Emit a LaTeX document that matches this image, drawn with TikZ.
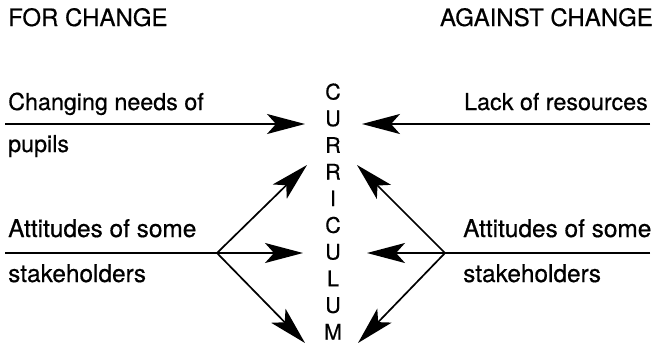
\documentclass[tikz,border=0pt]{standalone}
\usepackage{fontspec}
\setmainfont[FakeBold=0.5]{TeX Gyre Heros}
\usetikzlibrary{arrows.meta}
\begin{document}
\begin{tikzpicture}[x=1pt,y=-1pt,
  heading/.style={inner sep=0pt,font=\fontsize{24}{28}\selectfont},
  label/.style={inner sep=0pt,font=\fontsize{23.3}{28}\selectfont},
  widelabel/.style={label,font=\fontsize{24.4}{28}\selectfont},
  letter/.style={inner sep=0pt,anchor=base,font=\fontsize{21.5}{24}\selectfont},
  force/.style={line width=1.7pt,-{Stealth[length=38pt,width=20pt,inset=9pt]}},
  plain/.style={line width=1.7pt}]
\useasboundingbox (0,0) rectangle (656,349);

% column headings
\node[heading,anchor=base west] (for) at (8,26) {FOR CHANGE};
\node[heading,anchor=base east] (against) at (653,26) {AGAINST CHANGE};

% the word CURRICULUM, one letter per line
\foreach \l [count=\i from 0] in {C,U,R,R,I,C,U,L,U,M}
  \node[letter] (c\i) at (333,{99.5+26.67*\i}) {\l};

% driving forces (left)
\node[label,anchor=base west] (needs1) at (8,110) {Changing needs of};
\node[label,anchor=base west] (needs2) at (8,152) {pupils};
\node[widelabel,anchor=base west] (att1) at (8,237) {Attitudes of some};
\node[widelabel,anchor=base west] (att2) at (8,282) {stakeholders};

% restraining forces (right)
\node[label,anchor=base east] (lack) at (648,110) {Lack of resources};
\node[widelabel,anchor=base west] (ratt1) at (463,237) {Attitudes of some};
\node[widelabel,anchor=base west] (ratt2) at (463,282) {stakeholders};

% line ends and arrow tips
\coordinate (ls1) at (5,124);
\coordinate (lt1) at (305,124);
\coordinate (rs1) at (650,124);
\coordinate (rt1) at (362,124);
\coordinate (ls2) at (5,253);
\coordinate (hubL) at (217,253);
\coordinate (rs2) at (650,253);
\coordinate (hubR) at (445,253);
\coordinate (ltU) at (307,165);
\coordinate (ltM) at (303,253);
\coordinate (ltD) at (305,343);
\coordinate (rtU) at (357,165);
\coordinate (rtM) at (367,253);
\coordinate (rtD) at (358,343);

% top pair of forces
\draw[force] (ls1) -- (lt1);
\draw[force] (rs1) -- (rt1);

% lower pair: a line fanning out into three arrows
\draw[plain] (ls2) -- (hubL);
\draw[force] (hubL) -- (ltU);
\draw[force] (hubL) -- (ltM);
\draw[force] (hubL) -- (ltD);
\draw[plain] (rs2) -- (hubR);
\draw[force] (hubR) -- (rtU);
\draw[force] (hubR) -- (rtM);
\draw[force] (hubR) -- (rtD);
\end{tikzpicture}
\end{document}
